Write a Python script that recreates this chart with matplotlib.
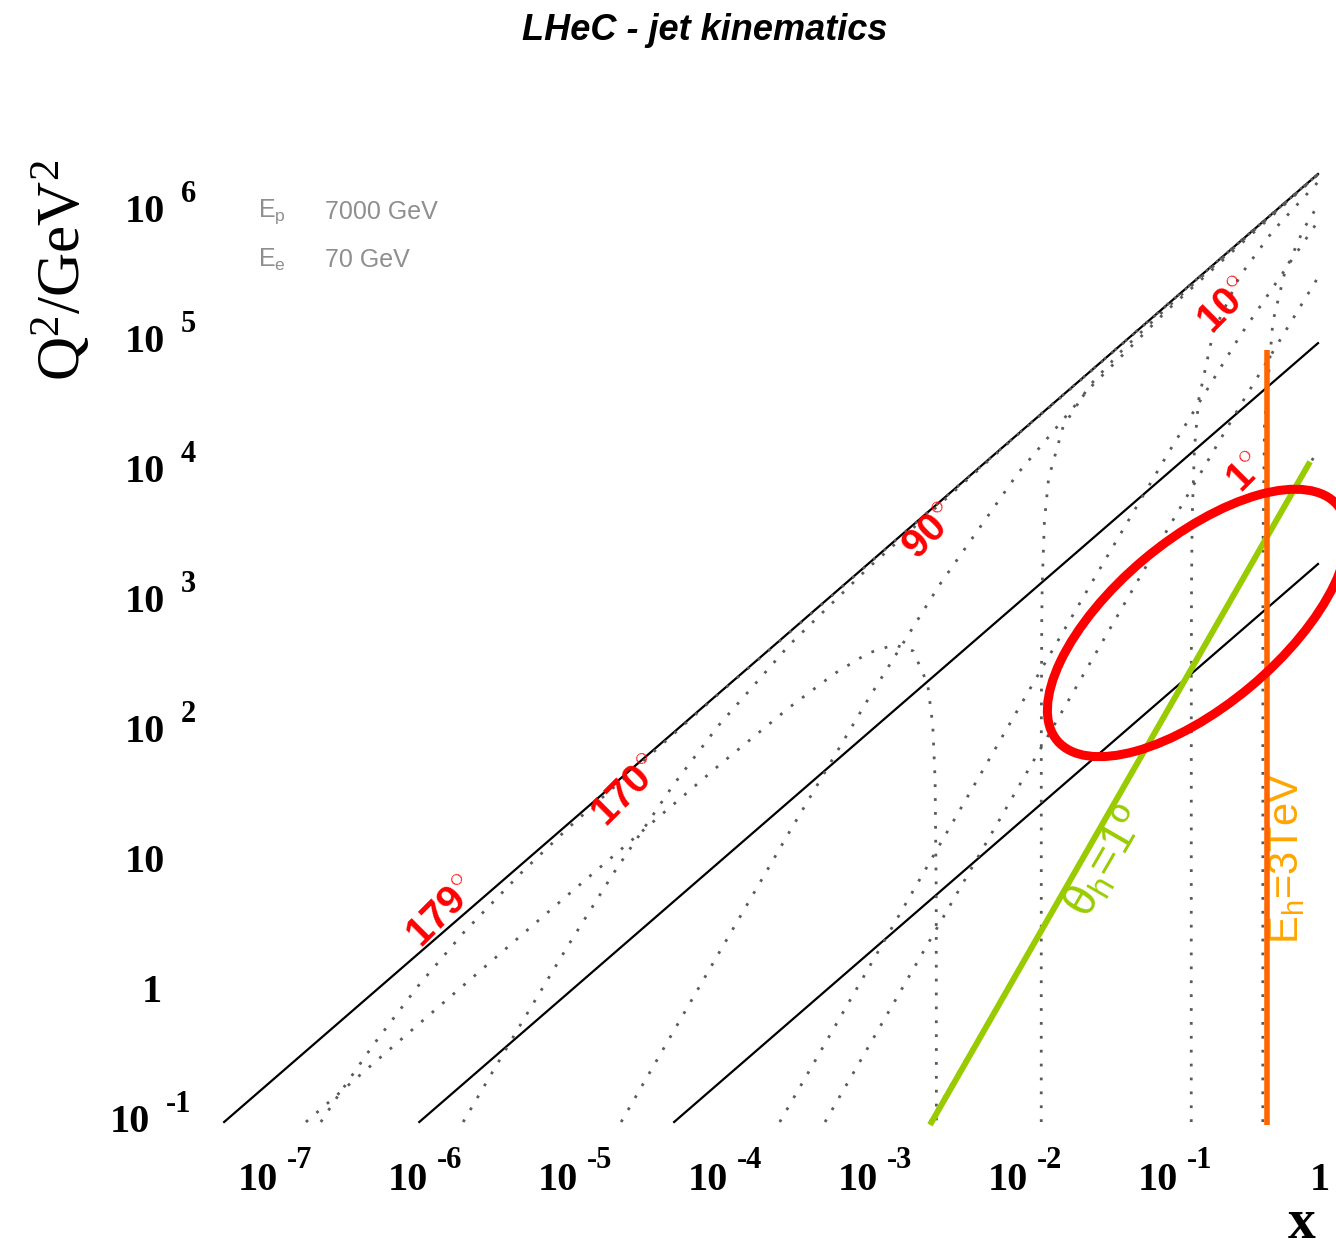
#!/usr/bin/env python3

import matplotlib
matplotlib.use("Agg")
import matplotlib.pyplot as plt
import matplotlib.transforms as mtransforms
from matplotlib.patches import Ellipse
from matplotlib import font_manager

plt.rcParams["mathtext.fontset"] = "custom"
plt.rcParams["mathtext.rm"] = "Liberation Serif"
plt.rcParams["mathtext.sf"] = "Liberation Sans"
plt.rcParams["mathtext.bf"] = "Liberation Serif:bold"

# beams
E_e = 70      # GeV
E_p = 7000    # GeV

# solid lines (start at Q2 = 0.1, end at x = 1)
solid_x0 = [5.1e-8, 1.02e-6, 5.1e-5]
solid_q2_end = [1.96e6, 9.8e4, 1.96e3]

# dotted iso-angle curves of the hadronic final state
th179_x = [2.25e-7, 3e-7, 5e-7, 1e-6, 2e-6, 5e-6, 1e-5, 1e-4, 1e-2, 1.0]
th179_q2 = [0.1, 0.166, 0.388, 1.11, 2.84, 8.50, 18.2, 194.5, 1.96e4, 1.96e6]
th170_x = [2e-6, 3e-6, 5e-6, 1e-5, 2e-5, 5e-5, 1e-4, 3e-4, 1e-3, 1e-2, 1.0]
th170_q2 = [0.1, 0.222, 0.601, 2.27, 8.12, 38.7, 111, 469, 1821, 19450, 1.96e6]
th90_x = [2.26e-5, 5e-5, 1e-4, 3e-4, 1e-3, 3e-3, 1e-2, 3e-2, 0.1, 1.0]
th90_q2 = [0.1, 0.488, 1.94, 17.1, 178, 1357, 9800, 44100, 1.78e5, 1.94e6]
th10_x = [2.58e-4, 1e-3, 3e-3, 1e-2, 3e-2, 0.1, 0.3, 1.0]
th10_q2 = [0.1, 1.50, 13.5, 149, 1320, 13900, 1.10e5, 8.5e5]
th5_x = [5.17e-4, 1e-3, 3e-3, 1e-2, 3e-2, 0.1, 0.3, 1.0]
th5_q2 = [0.1, 0.374, 3.36, 37.3, 334, 3670, 31800, 3.14e5]
th1_x = [2.59e-3, 1e-2, 3e-2, 0.1, 0.3, 1.0]
th1_q2 = [0.1, 1.49, 13.4, 149, 1340, 14800]

# dotted iso-energy curves of the hadronic final state
eh20_x = [1.79e-7, 1e-6, 1e-5, 1e-4, 3e-4, 6e-4, 1e-3, 1.5e-3, 2e-3,
          2.5e-3, 2.7e-3, 2.8e-3, 2.85e-3, 2.857e-3]
eh20_q2 = [0.1, 0.56, 5.59, 54.6, 155, 282, 404, 469, 420,
           233, 114, 43.6, 5.6, 0.1]
eh100_x = [0.014286, 0.0143, 0.0144, 0.0145, 0.015, 0.016, 0.02, 0.03,
           0.05, 0.1, 0.3, 1.0]
eh100_q2 = [0.1, 93, 733, 1353, 4200, 8960, 22400, 46200,
            87500, 1.87e5, 5.79e5, 1.95e6]
eh1000_x = [0.14286, 0.1430, 0.1435, 0.145, 0.15, 0.16, 0.2, 0.3, 0.5, 1.0]
eh1000_q2 = [0.1, 301, 1354, 4510, 15000, 35800, 1.18e5, 3.19e5, 7.14e5, 1.70e6]
eh3000_x = [0.42857, 0.429, 0.43, 0.44, 0.5, 0.6, 0.8, 1.0]
eh3000_q2 = [0.1, 860, 2870, 22900, 1.43e5, 3.42e5, 7.37e5, 1.13e6]

dotted_curves = [(th179_x, th179_q2), (th170_x, th170_q2), (th90_x, th90_q2),
                 (th10_x, th10_q2), (th5_x, th5_q2), (th1_x, th1_q2),
                 (eh20_x, eh20_q2), (eh100_x, eh100_q2),
                 (eh1000_x, eh1000_q2), (eh3000_x, eh3000_q2)]

# angle labels: text, x, Q2
angle_labels = ["179", "170", "90", "10", "1"]
angle_label_x = [1.45e-6, 2.5e-5, 2.6e-3, 0.244, 0.336]
angle_label_q2 = [4.1, 34.5, 3450, 1.89e5, 9820]

# detector limits
theta_h1_x = [2.59e-3, 0.885]
theta_h1_q2 = [0.095, 1.2e4]
eh3tev_x = [0.455, 0.455]
eh3tev_q2 = [0.095, 8.7e4]

# highlighted region (centre in x, Q2)
region_x = 0.157
region_q2 = 690

x_decades = list(range(-7, 1))
q2_decades = list(range(-1, 7))


def have_font(name):
    try:
        font_manager.findfont(font_manager.FontProperties(family=name),
                              fallback_to_default=False)
        return True
    except ValueError:
        return False


W, H = 1336, 1250
fig = plt.figure(figsize=(W / 100, H / 100), dpi=100)
ax = fig.add_axes([208 / W, (H - 1122) / H, 1110 / W, 955.5 / H])
ax.set_xscale("log")
ax.set_yscale("log")
ax.set_xlim(10 ** -7.4, 1.0)
ax.set_ylim(0.1, 10 ** 6.35)
ax.axis("off")

for x0, q2e in zip(solid_x0, solid_q2_end):
    ax.plot([x0, 1.0], [0.1, q2e], color="black", lw=1.6, clip_on=False)

for cx, cq in dotted_curves:
    ax.plot(cx, cq, color="#5a5a5a", lw=2.0, linestyle=(0, (1, 4)),
            clip_on=False)

ax.plot(theta_h1_x, theta_h1_q2, color="#99cc00", lw=4.3, clip_on=False,
        solid_capstyle="butt", zorder=4)
ax.plot(eh3tev_x, eh3tev_q2, color="#ff6600", lw=4.0, clip_on=False,
        solid_capstyle="butt", zorder=4)

ell_tr = fig.dpi_scale_trans + mtransforms.ScaledTranslation(
    region_x, region_q2, ax.transData)
ax.add_patch(Ellipse((0, 0), 3.66, 1.66, angle=40, transform=ell_tr,
                     fill=False, edgecolor="#ff0000", lw=6.5, clip_on=False,
                     zorder=5))

# angle labels along the kinematic limit
for lab, lx, lq in zip(angle_labels, angle_label_x, angle_label_q2):
    ax.text(lx, lq, lab + r"$^{\circ}$", color="#ff0000", fontsize=29,
            fontweight="bold", family="Liberation Sans", rotation=45,
            rotation_mode="anchor", ha="center", va="center", zorder=6)

ax.text(0.039, 10.0, r"$\mathsf{\theta}_{\mathsf{h}}$=1º", color="#99cc00",
        fontsize=34, family="Liberation Sans", rotation=60,
        rotation_mode="anchor", ha="center", va="center")
ax.text(0.621, 10.7, r"E$_{\mathsf{h}}$=3TeV", color="#ffa500",
        fontsize=30, family="Liberation Sans", rotation=90,
        rotation_mode="anchor", ha="center", va="center")


def shifted(tr, dx, dy):
    return mtransforms.offset_copy(tr, fig=fig, x=dx, y=dy, units="dots")


tick_kw = dict(family="Liberation Serif", fontweight="bold", fontsize=29,
               color="black", va="center")
exp_kw = dict(family="Liberation Serif", fontweight="bold", fontsize=22,
              color="black", va="center")

xtr = ax.get_xaxis_transform()
for e in x_decades:
    v = 10.0 ** e
    if e == 0:
        ax.text(v, 0, "1", transform=shifted(xtr, 2, -59), ha="center",
                **tick_kw)
    else:
        ax.text(v, 0, "10", transform=shifted(xtr, 10, -59), ha="right",
                **tick_kw)
        ax.text(v, 0, str(e), transform=shifted(xtr, 19, -38), ha="left",
                **exp_kw)

ytr = ax.get_yaxis_transform()
for e in q2_decades:
    v = 10.0 ** e
    if e == 0:
        ax.text(0, v, "1", transform=shifted(ytr, -46, 0), ha="right",
                **tick_kw)
    elif e == 1:
        ax.text(0, v, "10", transform=shifted(ytr, -43, 0), ha="right",
                **tick_kw)
    else:
        r = -43 if e > 0 else -58
        ax.text(0, v, "10", transform=shifted(ytr, r, 0), ha="right",
                **tick_kw)
        ax.text(0, v, str(e), transform=shifted(ytr, r + 16, 18), ha="left",
                **exp_kw)

# axis titles
fig.text(62 / W, 1 - 270 / H, r"$\mathrm{Q^{2}/GeV^{2}}$", rotation=90,
         fontsize=44, ha="center", va="center")
fig.text(1302 / W, 1 - 1224 / H, "x", family="Liberation Serif",
         fontweight="bold", fontsize=40, ha="center", va="center")

# beam energies
leg_kw = dict(color="#8f8f8f", fontsize=18, va="center")
fig.text(258 / W, 1 - 212 / H, r"$\mathsf{E_{p}}$", **leg_kw)
fig.text(325 / W, 1 - 212 / H, f"{E_p} GeV", family="Liberation Sans", **leg_kw)
fig.text(258 / W, 1 - 260 / H, r"$\mathsf{E_{e}}$", **leg_kw)
fig.text(325 / W, 1 - 260 / H, f"{E_e} GeV", family="Liberation Sans", **leg_kw)

# title
if have_font("Liberation Sans Narrow"):
    title_kw = dict(family="Liberation Sans Narrow", fontsize=30)
else:
    title_kw = dict(family="Liberation Sans", fontsize=26)
fig.text(705 / W, 1 - 30 / H, "LHeC - jet kinematics", fontweight="bold",
         style="italic", ha="center", va="center", **title_kw)

fig.savefig("out.png", dpi=100)
